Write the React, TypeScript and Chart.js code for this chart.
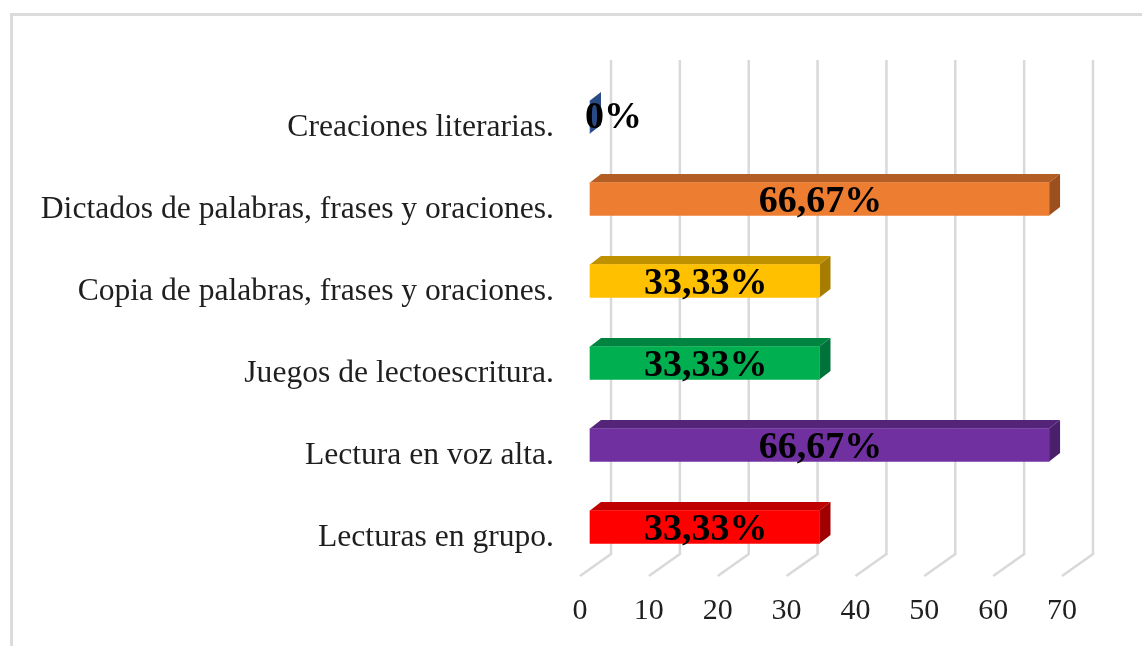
import React, { useEffect, useRef } from "react";
import { Chart, registerables } from "chart.js";

Chart.register(...registerables);

const categories = [
  "Creaciones literarias.",
  "Dictados de palabras, frases y oraciones.",
  "Copia de palabras, frases y oraciones.",
  "Juegos de lectoescritura.",
  "Lectura en voz alta.",
  "Lecturas en grupo.",
];
const values = [0, 66.67, 33.33, 33.33, 66.67, 33.33];
const valueLabels = ["0%", "66,67%", "33,33%", "33,33%", "66,67%", "33,33%"];
const frontColors = ["#4472C4", "#ED7D31", "#FFC000", "#00B050", "#7030A0", "#FF0000"];
const topColors = ["#335595", "#B25E25", "#BF9000", "#008440", "#542478", "#BF0000"];
const sideColors = ["#2A4A85", "#9C5020", "#A67D00", "#00733A", "#4A1F6B", "#A00000"];
const xTicks = [0, 10, 20, 30, 40, 50, 60, 70];

const SERIF = '"Liberation Serif", serif';
const GRID = "#D9D9D9";

const bar3d = {
  id: "bar3d",
  beforeDatasetsDraw(chart: any) {
    const { ctx, scales } = chart;
    const x = scales.x;
    const y = scales.y;
    const wallX = 31;
    const wallY = -22;
    ctx.save();
    ctx.strokeStyle = GRID;
    ctx.lineWidth = 2.5;
    xTicks.forEach((t) => {
      const px = x.getPixelForValue(t);
      ctx.beginPath();
      ctx.moveTo(px, y.bottom);
      ctx.lineTo(px + wallX, y.bottom + wallY);
      ctx.lineTo(px + wallX, y.top + wallY - 2);
      ctx.stroke();
    });
    ctx.restore();

    ctx.save();
    ctx.translate(10, -8);
    const dx = 11;
    const dy = -8.5;
    chart.getDatasetMeta(0).data.forEach((bar: any, i: number) => {
      const h = bar.height / 2;
      const x0 = bar.base;
      const x1 = bar.x;
      const t = bar.y - h;
      const b = bar.y + h;
      ctx.fillStyle = topColors[i];
      ctx.beginPath();
      ctx.moveTo(x0, t);
      ctx.lineTo(x0 + dx, t + dy);
      ctx.lineTo(x1 + dx, t + dy);
      ctx.lineTo(x1, t);
      ctx.closePath();
      ctx.fill();
      ctx.fillStyle = sideColors[i];
      ctx.beginPath();
      ctx.moveTo(x1, t);
      ctx.lineTo(x1 + dx, t + dy);
      ctx.lineTo(x1 + dx, b + dy);
      ctx.lineTo(x1, b);
      ctx.closePath();
      ctx.fill();
    });
  },
  afterDatasetsDraw(chart: any) {
    const { ctx } = chart;
    ctx.font = `bold 38px ${SERIF}`;
    ctx.fillStyle = "#000000";
    ctx.textBaseline = "middle";
    chart.getDatasetMeta(0).data.forEach((bar: any, i: number) => {
      const w = bar.x - bar.base;
      if (w < 1) {
        ctx.textAlign = "left";
        ctx.fillText(valueLabels[i], bar.x - 5, bar.y + 1);
      } else {
        ctx.textAlign = "center";
        ctx.fillText(valueLabels[i], bar.base + w / 2 + 1, bar.y + 3);
      }
    });
    ctx.restore();
  },
};

export default function App() {
  const ref = useRef<HTMLCanvasElement>(null);
  useEffect(() => {
    document.body.style.margin = "0";
    const chart = new Chart(ref.current as HTMLCanvasElement, {
      type: "bar",
      data: {
        labels: categories,
        datasets: [
          {
            data: values,
            backgroundColor: frontColors,
            borderWidth: 0,
            barThickness: 33,
            clip: false,
          } as any,
        ],
      },
      options: {
        indexAxis: "y",
        animation: false,
        responsive: false,
        layout: { padding: { top: 84, right: 80, left: 0, bottom: 0 } },
        plugins: { legend: { display: false }, tooltip: { enabled: false } },
        scales: {
          x: {
            type: "linear",
            min: 0,
            max: 70,
            afterFit: (s: any) => {
              s.height = 70;
            },
            afterBuildTicks: (s: any) => {
              s.ticks = xTicks.map((value) => ({ value }));
            },
            grid: { display: false },
            border: { display: false },
            ticks: {
              color: "#1F1F1F",
              font: { family: SERIF, size: 30 },
              padding: 9,
              maxRotation: 0,
            },
          },
          y: {
            type: "category",
            afterFit: (s: any) => {
              s.width = 580;
            },
            grid: { display: false },
            border: { display: false },
            ticks: {
              color: "#1F1F1F",
              font: { family: SERIF, size: 31.6 },
              padding: 18,
              labelOffset: 3,
              autoSkip: false,
            },
          },
        },
      } as any,
      plugins: [bar3d],
    });
    return () => chart.destroy();
  }, []);
  return (
    <div style={{ position: "relative", width: 1142, height: 646, background: "#fff", overflow: "hidden" }}>
      <canvas ref={ref} width={1142} height={646} style={{ display: "block" }} />
      <div
        style={{
          position: "absolute",
          left: 10,
          top: 13,
          width: 1132,
          height: 700,
          boxSizing: "border-box",
          borderLeft: "3px solid #DCDCDC",
          borderTop: "3px solid #DCDCDC",
        }}
      />
    </div>
  );
}
